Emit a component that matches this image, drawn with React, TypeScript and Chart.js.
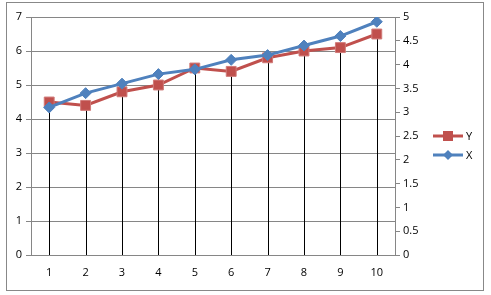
import React, { useEffect, useRef } from "react";
import { Chart, registerables } from "chart.js";

Chart.register(...registerables);

const categories = ["1", "2", "3", "4", "5", "6", "7", "8", "9", "10"];
const seriesY = [4.5, 4.4, 4.8, 5.0, 5.5, 5.4, 5.8, 6.0, 6.1, 6.5];
const seriesX = [3.1, 3.4, 3.6, 3.8, 3.9, 4.1, 4.2, 4.4, 4.6, 4.9];
const leftMax = 7;
const rightMax = 5;

const RED = "#C0504D";
const BLUE = "#4F81BD";
const GRID = "#868686";
const FONT = "'Open Sans', 'Noto Sans', sans-serif";
const FSIZE = 11;

const dropLines = {
  id: "dropLines",
  beforeDatasetsDraw(chart: any) {
    const meta = chart.getDatasetMeta(1);
    const { ctx, chartArea } = chart;
    ctx.save();
    ctx.strokeStyle = "#000000";
    ctx.lineWidth = 1;
    meta.data.forEach((pt: any) => {
      const x = Math.round(pt.x) + 0.5;
      ctx.beginPath();
      ctx.moveTo(x, pt.y);
      ctx.lineTo(x, chartArea.bottom);
      ctx.stroke();
    });
    ctx.restore();
  },
};

const customLegend = {
  id: "customLegend",
  afterDraw(chart: any) {
    const { ctx, chartArea } = chart;
    const entries = [1, 0];
    const x0 = chartArea.right + 38;
    const yStart = 136;
    ctx.save();
    entries.forEach((di, i) => {
      const ds = chart.data.datasets[di];
      const y = yStart + i * 19;
      ctx.strokeStyle = ds.borderColor;
      ctx.lineWidth = 3;
      ctx.beginPath();
      ctx.moveTo(x0, y);
      ctx.lineTo(x0 + 30, y);
      ctx.stroke();
      ctx.fillStyle = ds.backgroundColor;
      const cx = x0 + 15;
      if (ds.pointStyle === "rect") {
        ctx.fillRect(cx - 5, y - 5, 10, 10);
      } else {
        ctx.beginPath();
        ctx.moveTo(cx, y - 5);
        ctx.lineTo(cx + 5, y);
        ctx.lineTo(cx, y + 5);
        ctx.lineTo(cx - 5, y);
        ctx.closePath();
        ctx.fill();
      }
      ctx.fillStyle = "#000000";
      ctx.font = `${FSIZE}px ${FONT}`;
      ctx.textBaseline = "middle";
      ctx.textAlign = "left";
      ctx.fillText(ds.label, x0 + 33, y + 1);
    });
    ctx.restore();
  },
};

export default function App() {
  const ref = useRef<HTMLCanvasElement | null>(null);

  useEffect(() => {
    if (!ref.current) return;
    const chart = new Chart(ref.current, {
      type: "line",
      data: {
        labels: categories,
        datasets: [
          {
            label: "X",
            data: seriesX,
            yAxisID: "y1",
            borderColor: BLUE,
            backgroundColor: BLUE,
            borderWidth: 3,
            pointStyle: "rectRot",
            pointRadius: 5.5,
            pointBorderWidth: 1,
            pointBackgroundColor: BLUE,
            pointBorderColor: BLUE,
            tension: 0,
          },
          {
            label: "Y",
            data: seriesY,
            yAxisID: "y",
            borderColor: RED,
            backgroundColor: RED,
            borderWidth: 3,
            pointStyle: "rect",
            pointRadius: 7,
            pointBorderWidth: 1,
            pointBackgroundColor: RED,
            pointBorderColor: "#D07A78",
            tension: 0,
          },
        ],
      },
      options: {
        responsive: false,
        animation: false,
        devicePixelRatio: 1,
        layout: { padding: { left: 0, top: 17, right: 70, bottom: 0 } },
        plugins: {
          legend: { display: false },
          tooltip: { enabled: false },
        },
        scales: {
          x: {
            offset: true,
            grid: { display: false, drawTicks: false },
            border: { display: true, color: GRID, width: 1 },
            ticks: {
              color: "#000000",
              font: { family: FONT, size: FSIZE },
              padding: 11,
              maxRotation: 0,
            },
            afterFit(scale: any) {
              scale.height = 40;
            },
          },
          y: {
            position: "left",
            min: 0,
            max: leftMax,
            ticks: {
              stepSize: 1,
              color: "#000000",
              font: { family: FONT, size: FSIZE },
              padding: 4,
            },
            grid: {
              color: GRID,
              tickColor: GRID,
              tickLength: 5,
              drawTicks: true,
            },
            border: { display: true, color: GRID, width: 1 },
            afterFit(scale: any) {
              scale.width = 31;
            },
          },
          y1: {
            position: "right",
            min: 0,
            max: rightMax,
            ticks: {
              stepSize: 0.5,
              color: "#000000",
              font: { family: FONT, size: FSIZE },
              padding: 3,
              callback: (v: any) => String(Number(v)),
            },
            grid: {
              drawOnChartArea: false,
              color: GRID,
              tickColor: GRID,
              tickLength: 5,
              drawTicks: true,
            },
            border: { display: true, color: GRID, width: 1 },
            afterFit(scale: any) {
              scale.width = 26;
            },
          },
        },
      },
      plugins: [dropLines, customLegend],
    });
    return () => chart.destroy();
  }, []);

  return (
    <div
      style={{
        position: "absolute",
        left: 0,
        top: 0,
        width: 491,
        height: 295,
        background: "#ffffff",
      }}
    >
      <div
        style={{
          position: "absolute",
          left: 6,
          top: 2,
          width: 478,
          height: 289,
          border: "1px solid #888888",
          boxSizing: "border-box",
        }}
      />
      <canvas
        ref={ref}
        width={491}
        height={295}
        style={{ position: "absolute", left: 0, top: 0 }}
      />
    </div>
  );
}
